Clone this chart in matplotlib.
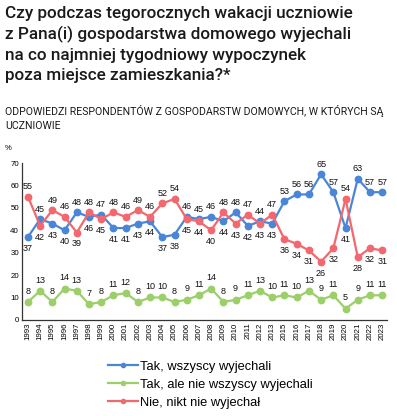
import matplotlib
matplotlib.use("Agg")
import matplotlib.pyplot as plt
from matplotlib.lines import Line2D

years = ["1993", "1994", "1995", "1996", "1997", "1998", "1999", "2000", "2001", "2002",
         "2003", "2004", "2005", "2006", "2007", "2008", "2009", "2010", "2011", "2012",
         "2013", "2015", "2016", "2017", "2018", "2019", "2020", "2021", "2022", "2023"]
all_went = [37, 45, 43, 40, 48, 46, 47, 41, 41, 43, 44, 37, 38, 46, 45, 46, 44, 48, 42, 44,
            43, 53, 56, 56, 65, 57, 41, 63, 57, 57]
some_went = [8, 13, 8, 14, 13, 7, 8, 11, 12, 8, 10, 10, 8, 9, 11, 14, 8, 9, 11, 13,
             10, 11, 10, 13, 9, 11, 5, 9, 11, 11]
none_went = [55, 42, 49, 46, 39, 48, 45, 48, 46, 49, 46, 52, 54, 45, 44, 40, 48, 43, 47, 43,
             47, 36, 34, 31, 26, 32, 54, 28, 32, 31]
series_names = ["Tak, wszyscy wyjechali", "Tak, ale nie wszyscy wyjechali", "Nie, nikt nie wyjechał"]
yticks = [0, 10, 20, 30, 40, 50, 60, 70]

title = ("Czy podczas tegorocznych wakacji uczniowie\nz Pana(i) gospodarstwa domowego wyjechali\n"
         "na co najmniej tygodniowy wypoczynek\npoza miejsce zamieszkania?*")
subtitle = "ODPOWIEDZI RESPONDENTÓW Z GOSPODARSTW DOMOWYCH, W KTÓRYCH SĄ\nUCZNIOWIE"

c_blue = "#4A86D8"
c_green = "#9CCF6A"
c_red = "#F2686F"
lab_font = ["Liberation Sans", "DejaVu Sans"]

fig = plt.figure(figsize=(3.97, 4.16), dpi=100)
fig.text(0.013, 0.986, title, ha="left", va="top", fontsize=12.3,
         family=["Roboto", "DejaVu Sans"], fontweight="medium", linespacing=1.4, color="#1a1a1a")
fig.text(0.013, 0.748, subtitle, ha="left", va="top", fontsize=7.6,
         family=["Liberation Sans Narrow", "Roboto", "DejaVu Sans"], linespacing=1.5, color="#1a1a1a")
fig.text(0.013, 0.643, "%", ha="left", va="center", fontsize=5.5, family=lab_font)

ax = fig.add_axes([0.055, 0.231, 0.92, 0.377])
x = list(range(len(years)))
kw = dict(lw=1.6, marker="o", ms=4.6, solid_joinstyle="round")
ax.plot(x, all_went, color=c_blue, **kw)
ax.plot(x, some_went, color=c_green, **kw)
ax.plot(x, none_went, color=c_red, **kw)

ax.set_xlim(-0.5, 29.4)
ax.set_ylim(0, 70)
ax.set_yticks(yticks)
ax.set_xticks(x)
ax.set_xticklabels(years, rotation=90, fontsize=5.7, family=lab_font)
for t in ax.get_yticklabels():
    t.set_fontsize(5.7)
    t.set_family(lab_font)
ax.tick_params(axis="both", length=0, pad=2)
for s in ["top", "right"]:
    ax.spines[s].set_visible(False)
for s in ["left", "bottom"]:
    ax.spines[s].set_color("#333333")
    ax.spines[s].set_linewidth(0.9)

lab_kw = dict(textcoords="offset points", ha="center", fontsize=6.5, family=lab_font, color="#111111")
for i in x:
    b, r, g = all_went[i], none_went[i], some_went[i]
    if b >= r:
        ax.annotate(str(b), (i, b), xytext=(0, 4), va="bottom", **lab_kw)
        ax.annotate(str(r), (i, r), xytext=(0, -5), va="top", **lab_kw)
    else:
        ax.annotate(str(r), (i, r), xytext=(0, 4), va="bottom", **lab_kw)
        ax.annotate(str(b), (i, b), xytext=(0, -5), va="top", **lab_kw)
    ax.annotate(str(g), (i, g), xytext=(0, 4.5), va="bottom", **lab_kw)

handles = [Line2D([], [], color=c, lw=1.6, marker="o", ms=3, markevery=[1]) for c in (c_blue, c_green, c_red)]
for h in handles:
    h.set_data([0, 0.5, 1], [0, 0, 0])
fig.legend(handles, series_names, loc="center", bbox_to_anchor=(0.53, 0.075), frameon=False,
           prop={"family": lab_font, "size": 9.3}, handlelength=2.3, handletextpad=0.2,
           labelspacing=0.45)

fig.savefig("out.png", dpi=100)
